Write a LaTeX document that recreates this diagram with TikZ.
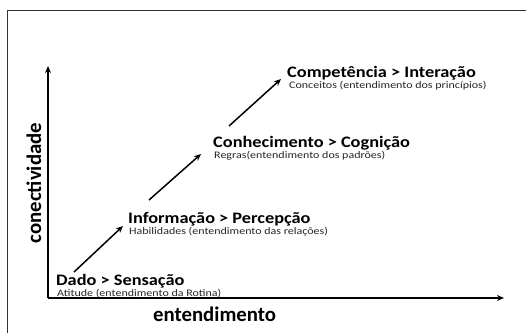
\documentclass[tikz,border=0pt]{standalone}
\usepackage{fontspec}
\setmainfont{Carlito}
\usetikzlibrary{arrows.meta}
\newcommand\widetext[2]{\scalebox{#1}[1]{#2}}
\begin{document}
\begin{tikzpicture}[x=1pt,y=-1pt,
  title/.style={anchor=base west,inner sep=0pt,font=\fontsize{16}{16}\selectfont\bfseries},
  sub/.style={anchor=base west,inner sep=0pt,font=\fontsize{10}{10}\selectfont,text=black!85},
  axislabel/.style={inner sep=0pt,font=\fontsize{20.8}{20.8}\selectfont\bfseries},
  axis/.style={line width=1.8pt,-{Stealth[length=7pt,width=6pt]}},
  stepline/.style={line width=1.5pt,-{Stealth[length=7pt,width=6pt]}}]
\useasboundingbox (0,0) rectangle (526,333);
\fill[white] (0,0) rectangle (526,333);
\draw[black!80,line width=0.8pt] (7,333) -- (7,10) -- (526,10);
% axes
\coordinate (O) at (48,298);
\coordinate (Ytip) at (48,66);
\coordinate (Xtip) at (504,298);
\draw[axis] (O) -- (Ytip);
\draw[axis] (O) -- (Xtip);
\node[axislabel,anchor=base west] (xl) at (153,321) {entendimento};
\node[axislabel,rotate=90,anchor=base] (yl) at (41,183) {conectividade};
% levels
\node[title] (d1) at (56,285.5) {\widetext{1.145}{Dado > Sensação}};
\node[sub] (d2) at (57,296) {\widetext{1.2}{Atitude (entendimento da Rotina)}};
\node[title] (i1) at (128,223) {\widetext{1.145}{Informação > Percepção}};
\node[sub] (i2) at (129,234.5) {\widetext{1.2}{Habilidades (entendimento das relações)}};
\node[title] (c1) at (213,147) {\widetext{1.145}{Conhecimento > Cognição}};
\node[sub] (c2) at (214,158) {\widetext{1.2}{Regras(entendimento dos padrões)}};
\node[title] (p1) at (287,77) {\widetext{1.145}{Competência > Interação}};
\node[sub] (p2) at (289,88) {\widetext{1.2}{Conceitos (entendimento dos princípios)}};
% step arrows
\coordinate (a1s) at (74,272); \coordinate (a1e) at (123,226);
\coordinate (a2s) at (149,200); \coordinate (a2e) at (201,154);
\coordinate (a3s) at (229,126); \coordinate (a3e) at (281,79);
\draw[stepline] (a1s) -- (a1e);
\draw[stepline] (a2s) -- (a2e);
\draw[stepline] (a3s) -- (a3e);
\end{tikzpicture}
\end{document}
